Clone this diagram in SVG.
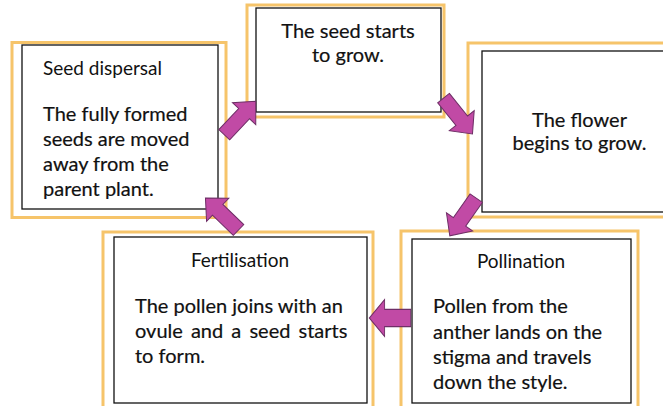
<svg xmlns="http://www.w3.org/2000/svg" width="663" height="406" viewBox="0 0 663 406">
<style>
.frame{fill:#ffffff;stroke:#F6C46A;stroke-width:3}
.box{fill:#ffffff;stroke:#111111;stroke-width:1.3}
.t{font-family:Lato,"Liberation Sans",sans-serif;fill:#111111}
.title{font-size:19px}
.body{font-size:20px;stroke:#111111;stroke-width:0.2}
.arrow{fill:#C14AA5;stroke:#6E2E66;stroke-width:1}
</style>
<defs>
<path id="arr" d="M-23,-7.5 H6 V-16 L23,0 L6,16 V7.5 H-23 Z"/>
</defs>
<rect width="663" height="406" fill="#ffffff"/>
<g id="node-dispersal">
<rect class="frame" x="12" y="42.5" width="214" height="175"/>
<rect class="box" x="22" y="45" width="196" height="164"/>
<text class="t title" x="43" y="75">Seed dispersal</text>
<text class="t body" x="43" y="121">The fully formed</text>
<text class="t body" x="43" y="146">seeds are moved</text>
<text class="t body" x="43" y="171">away from the</text>
<text class="t body" x="43" y="195.5">parent plant.</text>
</g>
<g id="node-grow">
<rect class="frame" x="247" y="5" width="197" height="112"/>
<rect class="box" x="256" y="8" width="185" height="104"/>
<text class="t body" x="348" y="38" text-anchor="middle">The seed starts</text>
<text class="t body" x="348" y="61.5" text-anchor="middle">to grow.</text>
</g>
<g id="node-flower">
<rect class="frame" x="468" y="43" width="210" height="174"/>
<rect class="box" x="482" y="51" width="200" height="161"/>
<text class="t body" x="579.5" y="127" text-anchor="middle">The flower</text>
<text class="t body" x="579.5" y="150" text-anchor="middle">begins to grow.</text>
</g>
<g id="node-pollination">
<rect class="frame" x="401" y="231" width="237" height="190"/>
<rect class="box" x="412" y="239" width="219" height="164"/>
<text class="t title" x="521" y="268" text-anchor="middle">Pollination</text>
<text class="t body" x="433" y="313">Pollen from the</text>
<text class="t body" x="433" y="339">anther lands on the</text>
<text class="t body" x="433" y="364">stigma and travels</text>
<text class="t body" x="433" y="389">down the style.</text>
</g>
<g id="node-fertilisation">
<rect class="frame" x="103" y="232" width="270" height="190"/>
<rect class="box" x="114" y="237" width="253" height="166"/>
<text class="t title" x="240" y="267" text-anchor="middle">Fertilisation</text>
<text class="t body" x="135" y="313">The pollen joins with an</text>
<text class="t body" x="135" y="338" word-spacing="3">ovule and a seed starts</text>
<text class="t body" x="135" y="363">to form.</text>
</g>
<g id="connectors">
<use href="#arr" class="arrow" transform="translate(240,118) rotate(-46.7)"/>
<use href="#arr" class="arrow" transform="translate(458,116) rotate(51)"/>
<use href="#arr" class="arrow" transform="translate(463,217) rotate(125)"/>
<use href="#arr" class="arrow" transform="translate(390,318) rotate(180) scale(0.9,1.15)"/>
<use href="#arr" class="arrow" transform="translate(222,214) rotate(-136)"/>
</g>
</svg>
